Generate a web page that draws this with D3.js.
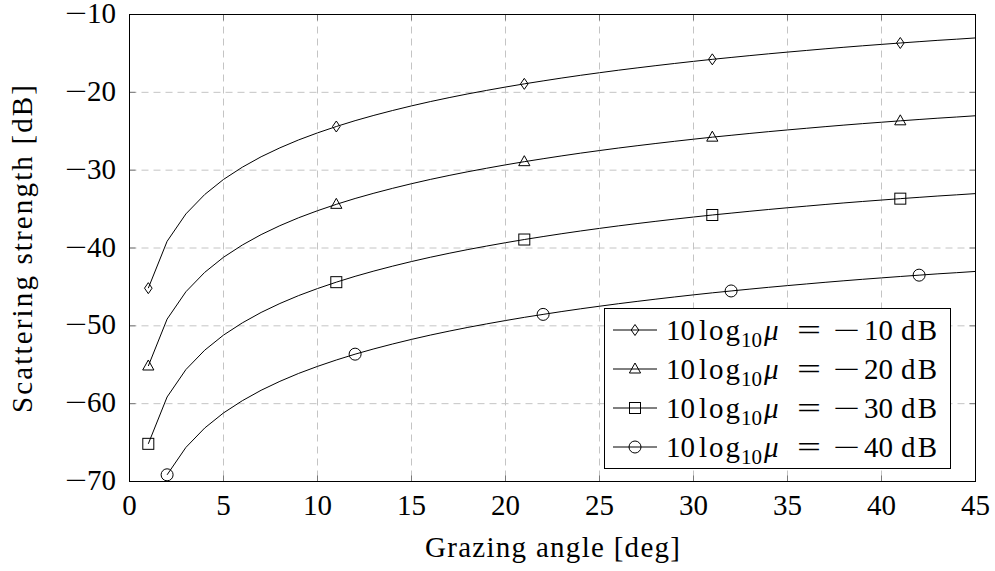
<!DOCTYPE html>
<html><head><meta charset="utf-8">
<script src="https://cdn.jsdelivr.net/npm/d3@7"></script>
<style>
body{margin:0;background:#fff;}
svg{display:block;font-family:"Liberation Serif","DejaVu Serif",serif;}
</style></head>
<body><svg id="c" width="995" height="571"></svg>
<script>
const angles = [1,2,3,4,5,6,7,8,9,10,11,12,13,14,15,16,17,18,19,20,21,22,23,24,25,26,27,28,29,30,31,32,33,34,35,36,37,38,39,40,41,42,43,44,45];
const angles40 = [2,3,4,5,6,7,8,9,10,11,12,13,14,15,16,17,18,19,20,21,22,23,24,25,26,27,28,29,30,31,32,33,34,35,36,37,38,39,40,41,42,43,44,45];
const mu10 = [-45.16,-39.14,-35.62,-33.13,-31.19,-29.62,-28.28,-27.13,-26.11,-25.21,-24.39,-23.64,-22.96,-22.33,-21.74,-21.19,-20.68,-20.20,-19.75,-19.32,-18.91,-18.53,-18.16,-17.81,-17.48,-17.16,-16.86,-16.57,-16.29,-16.02,-15.76,-15.52,-15.28,-15.05,-14.83,-14.62,-14.41,-14.21,-14.02,-13.84,-13.66,-13.49,-13.32,-13.17,-13.01];
const mu20 = [-55.16,-49.14,-45.62,-43.13,-41.19,-39.62,-38.28,-37.13,-36.11,-35.21,-34.39,-33.64,-32.96,-32.33,-31.74,-31.19,-30.68,-30.20,-29.75,-29.32,-28.91,-28.53,-28.16,-27.81,-27.48,-27.16,-26.86,-26.57,-26.29,-26.02,-25.76,-25.52,-25.28,-25.05,-24.83,-24.62,-24.41,-24.21,-24.02,-23.84,-23.66,-23.49,-23.32,-23.17,-23.01];
const mu30 = [-65.16,-59.14,-55.62,-53.13,-51.19,-49.62,-48.28,-47.13,-46.11,-45.21,-44.39,-43.64,-42.96,-42.33,-41.74,-41.19,-40.68,-40.20,-39.75,-39.32,-38.91,-38.53,-38.16,-37.81,-37.48,-37.16,-36.86,-36.57,-36.29,-36.02,-35.76,-35.52,-35.28,-35.05,-34.83,-34.62,-34.41,-34.21,-34.02,-33.84,-33.66,-33.49,-33.32,-33.17,-33.01];
const mu40 = [-69.14,-65.62,-63.13,-61.19,-59.62,-58.28,-57.13,-56.11,-55.21,-54.39,-53.64,-52.96,-52.33,-51.74,-51.19,-50.68,-50.20,-49.75,-49.32,-48.91,-48.53,-48.16,-47.81,-47.48,-47.16,-46.86,-46.57,-46.29,-46.02,-45.76,-45.52,-45.28,-45.05,-44.83,-44.62,-44.41,-44.21,-44.02,-43.84,-43.66,-43.49,-43.32,-43.17,-43.01];
const seriesLevels = ["10","20","30","40"];
const markerTypes = ["diamond","triangle","square","circle"];
const xTicks = [0,5,10,15,20,25,30,35,40,45];
const yTicks = [-70,-60,-50,-40,-30,-20,-10];
const xLabel = "Grazing angle [deg]";
const yLabel = "Scattering strength [dB]";

const series = [
  {x: angles, y: mu10}, {x: angles, y: mu20}, {x: angles, y: mu30}, {x: angles40, y: mu40}
].map((s,i)=>({pts: s.x.map((a,j)=>[a, s.y[j]]), level: seriesLevels[i], marker: markerTypes[i]}));

const svg = d3.select("#c");
const L=129.5, R=975.5, T=14.5, B=481.5;
const x = d3.scaleLinear().domain([0,45]).range([L,R]);
const y = d3.scaleLinear().domain([-70,-10]).range([B,T]);

// grid
const g = svg.append("g");
g.selectAll(".vg").data(xTicks.slice(1,-1)).join("line")
  .attr("x1",d=>x(d)).attr("x2",d=>x(d)).attr("y1",T).attr("y2",B)
  .attr("stroke","#c4c4c4").attr("stroke-width",1).attr("stroke-dasharray","7,5");
g.selectAll(".hg").data(yTicks.slice(1,-1)).join("line")
  .attr("y1",d=>y(d)).attr("y2",d=>y(d)).attr("x1",L).attr("x2",R)
  .attr("stroke","#c4c4c4").attr("stroke-width",1).attr("stroke-dasharray","7,5");

// ticks inside all sides
const tk = 6, tc="#7a7a7a";
xTicks.forEach(t=>{
  g.append("line").attr("x1",x(t)).attr("x2",x(t)).attr("y1",B).attr("y2",B-tk).attr("stroke",tc);
  g.append("line").attr("x1",x(t)).attr("x2",x(t)).attr("y1",T).attr("y2",T+tk).attr("stroke",tc);
});
yTicks.forEach(t=>{
  g.append("line").attr("y1",y(t)).attr("y2",y(t)).attr("x1",L).attr("x2",L+tk).attr("stroke",tc);
  g.append("line").attr("y1",y(t)).attr("y2",y(t)).attr("x1",R).attr("x2",R-tk).attr("stroke",tc);
});

// tick labels
const fs = 29;
svg.append("g").selectAll("text").data(xTicks).join("text")
  .attr("x",d=>x(d)).attr("y",B+33).attr("text-anchor","middle").attr("font-size",fs).text(d=>d);
svg.append("g").selectAll("text").data(yTicks).join("text")
  .attr("x",L-13.5).attr("y",d=>y(d)+8.5).attr("text-anchor","end").attr("font-size",fs)
  .text(d=>String(Math.abs(d)));
svg.append("g").selectAll("text").data(yTicks).join("text")
  .attr("x",65).attr("y",d=>y(d)+8.5).attr("font-size",fs)
  .attr("textLength",22).attr("lengthAdjust","spacingAndGlyphs").text("\u2212");

// axis labels
svg.append("text").attr("x",(L+R)/2).attr("y",556.5).attr("text-anchor","middle").attr("font-size",fs)
  .attr("textLength",255).attr("lengthAdjust","spacing").text(xLabel);
svg.append("text").attr("transform",`translate(32,249) rotate(-90)`).attr("text-anchor","middle").attr("font-size",fs)
  .attr("textLength",328).attr("lengthAdjust","spacing").text(yLabel);

// markers
function marker(sel, type, cx, cy){
  let m;
  if(type==="diamond") m = sel.append("path").attr("d",`M${cx},${cy-5.5}L${cx+3.8},${cy}L${cx},${cy+5.5}L${cx-3.8},${cy}Z`);
  else if(type==="triangle") m = sel.append("path").attr("d",`M${cx},${cy-6}L${cx+5.6},${cy+4}L${cx-5.6},${cy+4}Z`);
  else if(type==="square") m = sel.append("rect").attr("x",cx-5.5).attr("y",cy-5.5).attr("width",11).attr("height",11);
  else m = sel.append("circle").attr("cx",cx).attr("cy",cy).attr("r",6);
  m.attr("fill","none").attr("stroke","#000").attr("stroke-width",1);
}

const line = d3.line().x(d=>x(d[0])).y(d=>y(d[1]));
const pg = svg.append("g");
series.forEach(s=>{
  pg.append("path").attr("d",line(s.pts)).attr("fill","none").attr("stroke","#000").attr("stroke-width",1);
  s.pts.forEach((p,j)=>{ if(j%10===0) marker(pg, s.marker, x(p[0]), y(p[1])); });
});

// frame
svg.append("rect").attr("x",L).attr("y",T).attr("width",R-L).attr("height",B-T)
  .attr("fill","none").attr("stroke","#000").attr("stroke-width",1);

// legend
const lg = svg.append("g");
lg.append("rect").attr("x",604.5).attr("y",308.5).attr("width",346).attr("height",160)
  .attr("fill","#fff").attr("stroke","#000").attr("stroke-width",1);
series.forEach((s,i)=>{
  const cy = 330 + i*39;
  const by = cy + 10;
  lg.append("line").attr("x1",613).attr("x2",657).attr("y1",cy).attr("y2",cy).attr("stroke","#000");
  marker(lg, s.marker, 635, cy);
  const t = lg.append("g").attr("font-size",fs);
  t.append("text").attr("x",666).attr("y",by).text("10");
  t.append("text").attr("x",699).attr("y",by).attr("textLength",41).attr("lengthAdjust","spacing").text("log");
  t.append("text").attr("x",741).attr("y",by+7).attr("font-size",21).text("10");
  t.append("text").attr("x",764).attr("y",by).attr("font-style","italic").text("\u03bc");
  t.append("text").attr("x",797).attr("y",by).attr("textLength",24).attr("lengthAdjust","spacingAndGlyphs").text("=");
  t.append("text").attr("x",833).attr("y",by).attr("textLength",27).attr("lengthAdjust","spacingAndGlyphs").text("\u2212");
  t.append("text").attr("x",864).attr("y",by).text(s.level);
  t.append("text").attr("x",901).attr("y",by).attr("textLength",36).attr("lengthAdjust","spacing").text("dB");
});
</script></body></html>
